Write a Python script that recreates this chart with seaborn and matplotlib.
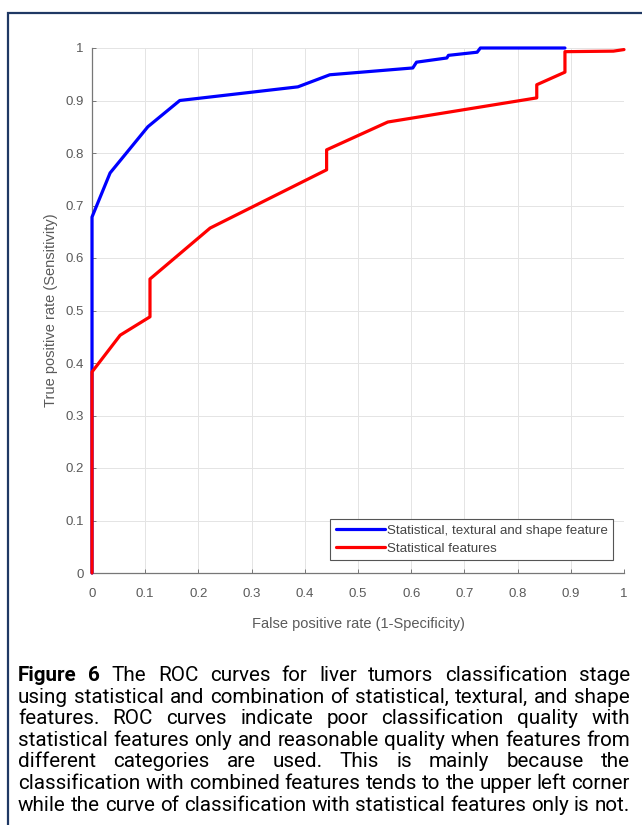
import pandas as pd
import matplotlib
matplotlib.use("Agg")
import matplotlib.pyplot as plt
import seaborn as sns
from matplotlib.patches import Rectangle
from matplotlib import font_manager

# ROC points
fpr_comb = [0, 0, 0.034, 0.105, 0.165, 0.387, 0.447, 0.603, 0.61, 0.667, 0.67, 0.724, 0.73, 0.767, 0.889]
tpr_comb = [0, 0.678, 0.762, 0.85, 0.90, 0.926, 0.949, 0.962, 0.973, 0.981, 0.986, 0.992, 1.0, 1.0, 1.0]

fpr_stat = [0, 0, 0.053, 0.109, 0.109, 0.222, 0.441, 0.441, 0.556, 0.836, 0.836, 0.889, 0.889, 0.98, 1.0]
tpr_stat = [0, 0.383, 0.453, 0.488, 0.56, 0.657, 0.768, 0.806, 0.859, 0.905, 0.93, 0.954, 0.993, 0.994, 0.997]

series_names = ["Statistical, textural and shape feature", "Statistical features"]
ticks = [0, 0.1, 0.2, 0.3, 0.4, 0.5, 0.6, 0.7, 0.8, 0.9, 1]
tick_labels = ["0", "0.1", "0.2", "0.3", "0.4", "0.5", "0.6", "0.7", "0.8", "0.9", "1"]

caption_lines = [
    "Figure 6 The ROC curves for liver tumors classification stage",
    "using statistical and combination of statistical, textural, and shape",
    "features. ROC curves indicate poor classification quality with",
    "statistical features only and reasonable quality when features from",
    "different categories are used. This is mainly because the",
    "classification with combined features tends to the upper left corner",
    "while the curve of classification with statistical features only is not.",
]

df = pd.concat([
    pd.DataFrame({"fpr": fpr_comb, "tpr": tpr_comb, "set": series_names[0]}),
    pd.DataFrame({"fpr": fpr_stat, "tpr": tpr_stat, "set": series_names[1]}),
])

sns.set_style("whitegrid")
plt.rcParams["font.family"] = ["Liberation Sans", "DejaVu Sans"]

installed = {f.name for f in font_manager.fontManager.ttflist}
cap_font = "Roboto" if "Roboto" in installed else "Liberation Sans"

W, H = 642, 825
fig = plt.figure(figsize=(W / 100, H / 100), dpi=100)
fig.patch.set_facecolor("white")

ax = fig.add_axes([92 / W, 1 - 573 / H, 532 / W, 525 / H])
sns.lineplot(data=df, x="fpr", y="tpr", hue="set", palette=["#0000ff", "#ff0000"],
             estimator=None, sort=False, linewidth=2.3, ax=ax)
for ln in ax.lines:
    ln.set_clip_on(False)
    ln.set_zorder(3)

ax.set_xlim(0, 1)
ax.set_ylim(0, 1)
ax.set_xticks(ticks)
ax.set_xticklabels(tick_labels)
ax.set_yticks(ticks)
ax.set_yticklabels(tick_labels)
ax.grid(True, color="#e4e4e4", linewidth=0.7)
ax.set_facecolor("white")
for s in ["top", "right"]:
    ax.spines[s].set_visible(False)
for s in ["left", "bottom"]:
    ax.spines[s].set_color("#777777")
    ax.spines[s].set_linewidth(0.9)
ax.tick_params(direction="in", length=3, width=0.7, colors="#777777",
               labelcolor="#5a5a5a", labelsize=9.5, bottom=True, left=True)
ax.tick_params(axis="x", pad=11)
ax.tick_params(axis="y", pad=6)
ax.set_xlabel("False positive rate (1-Specificity)", fontsize=10.5, color="#5a5a5a", labelpad=12)
ax.set_ylabel("True positive rate (Sensitivity)", fontsize=10.5, color="#5a5a5a", labelpad=5)

leg = ax.legend(loc="lower right", bbox_to_anchor=(0.98, 0.025), fontsize=9.6,
                frameon=True, fancybox=False, edgecolor="#555555", framealpha=1,
                handlelength=3.7, handletextpad=0.15, borderpad=0.4, labelspacing=0.4,
                borderaxespad=0)
leg.get_frame().set_linewidth(0.8)
for line in leg.get_lines():
    line.set_linewidth(2.3)
for t in leg.get_texts():
    t.set_color("#444444")

# page border (clipped on the right and bottom like the scan)
fig.add_artist(Rectangle((8 / W, -0.1), 2, 1 - 13 / H + 0.1, transform=fig.transFigure,
                         fill=False, edgecolor="#1f3864", linewidth=1.6))

# justified caption; size chosen so the last (full) line spans the text block
x0, x1 = 18, 630
base0, step = 681, 21.6
fig.canvas.draw()
renderer = fig.canvas.get_renderer()

probe = fig.text(0, 0, caption_lines[-1], fontsize=12, family=cap_font)
w_probe = probe.get_window_extent(renderer).width
probe.remove()
csize = 12 * (x1 - x0) / w_probe

sp = fig.text(0, 0, "a a", fontsize=csize, family=cap_font)
sa = fig.text(0, 0, "aa", fontsize=csize, family=cap_font)
space_w = sp.get_window_extent(renderer).width - sa.get_window_extent(renderer).width
sp.remove()
sa.remove()

for i, line in enumerate(caption_lines):
    words = line.split(" ")
    y = 1 - (base0 + i * step) / H
    texts = []
    for j, w in enumerate(words):
        bold = (i == 0 and j < 2)
        texts.append(fig.text(0, y, w, fontsize=csize, va="baseline", color="black",
                              family=cap_font, fontweight="bold" if bold else "normal"))
    widths = [t.get_window_extent(renderer).width for t in texts]
    if i < len(caption_lines) - 1:
        gap = (x1 - x0 - sum(widths)) / (len(words) - 1)
    else:
        gap = space_w
    x = x0
    for t, w in zip(texts, widths):
        t.set_x(x / W)
        x += w + gap

fig.savefig("out.png", dpi=100, facecolor="white")
